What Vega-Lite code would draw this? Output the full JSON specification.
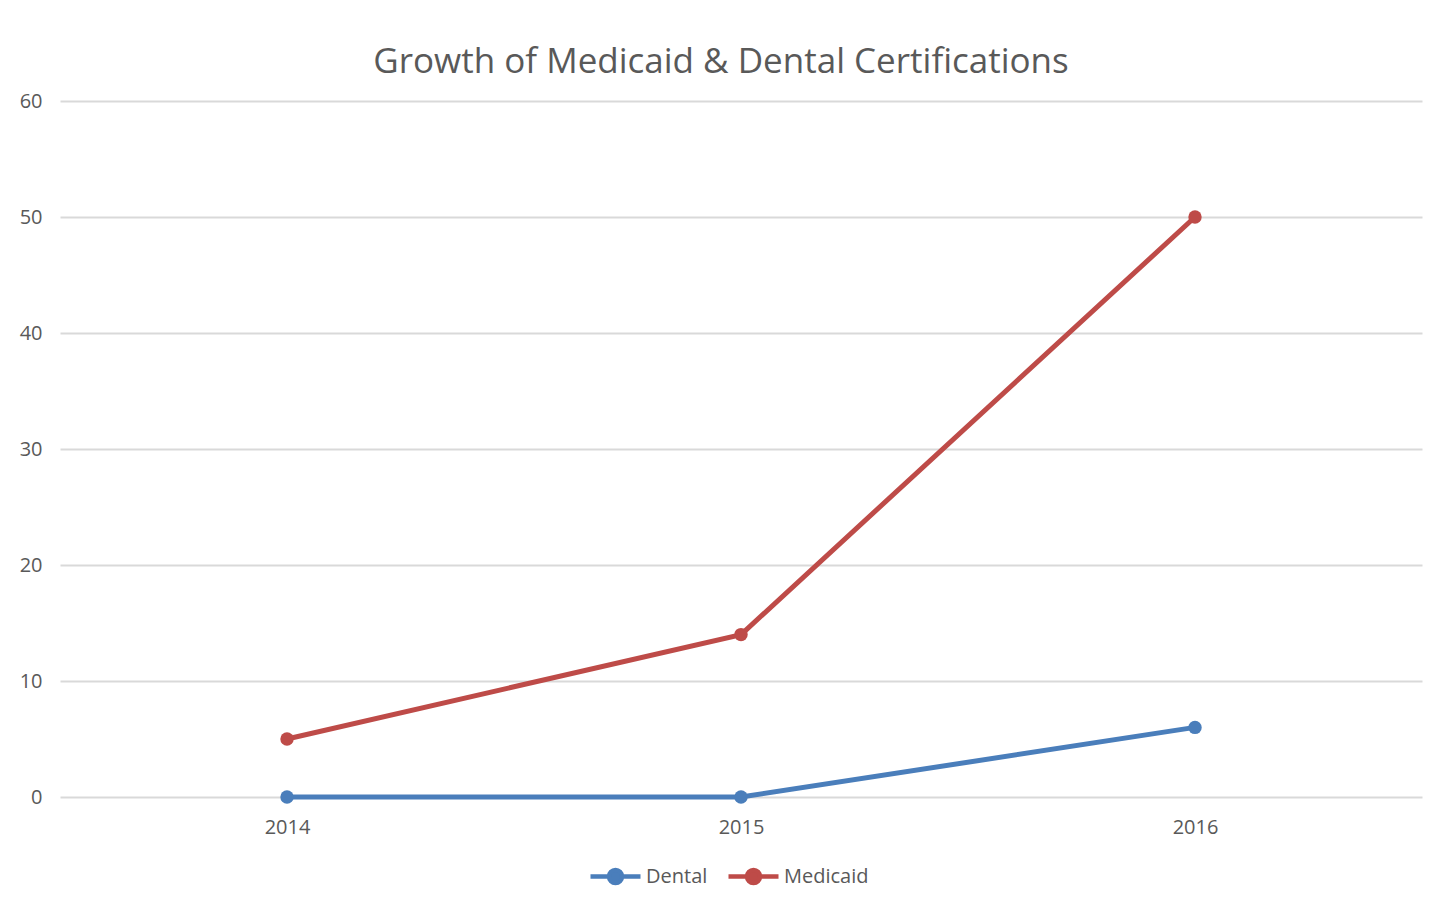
{
  "$schema": "https://vega.github.io/schema/vega-lite/v6.json",
  "autosize": {"type": "none"},
  "padding": {"left": 60, "top": 101, "right": 29, "bottom": 119},
  "width": 1362,
  "height": 696,
  "background": "white",
  "title": {
    "text": "Growth of Medicaid & Dental Certifications",
    "font": "Open Sans",
    "fontSize": 35,
    "fontWeight": "normal",
    "color": "#595959",
    "anchor": "middle",
    "baseline": "alphabetic",
    "dx": -20,
    "dy": 45,
    "offset": 28
  },
  "data": {
    "values": [
      {"year": "2014", "series": "Dental", "value": 0},
      {"year": "2015", "series": "Dental", "value": 0},
      {"year": "2016", "series": "Dental", "value": 6},
      {"year": "2014", "series": "Medicaid", "value": 5},
      {"year": "2015", "series": "Medicaid", "value": 14},
      {"year": "2016", "series": "Medicaid", "value": 50}
    ]
  },
  "mark": {"type": "line", "strokeWidth": 5, "point": {"filled": true, "size": 180, "opacity": 1}},
  "encoding": {
    "x": {
      "field": "year",
      "type": "ordinal",
      "scale": {"type": "point", "padding": 0.5},
      "axis": {
        "title": null,
        "labelAngle": 0,
        "ticks": false,
        "domain": false,
        "grid": false,
        "labelFont": "Open Sans",
        "labelFontSize": 20,
        "labelColor": "#595959",
        "labelPadding": 20
      }
    },
    "y": {
      "field": "value",
      "type": "quantitative",
      "scale": {"domain": [0, 60]},
      "axis": {
        "title": null,
        "values": [0, 10, 20, 30, 40, 50, 60],
        "ticks": false,
        "domain": false,
        "gridColor": "#d9d9d9",
        "gridWidth": 2,
        "labelFont": "Open Sans",
        "labelFontSize": 20,
        "labelColor": "#595959",
        "labelPadding": 18
      }
    },
    "color": {
      "field": "series",
      "type": "nominal",
      "scale": {"domain": ["Dental", "Medicaid"], "range": ["#4a7ebb", "#be4b48"]},
      "legend": {
        "title": null,
        "orient": "none",
        "legendX": 528,
        "legendY": 748,
        "direction": "horizontal",
        "symbolType": "M-1,0 L-0.26,0 A0.26,0.26 0 1,1 0.26,0 A0.26,0.26 0 1,1 -0.26,0 M0.26,0 L1,0",
        "symbolSize": 2500,
        "symbolStrokeWidth": 4.5,
        "labelFont": "Open Sans",
        "labelFontSize": 20,
        "labelColor": "#595959",
        "labelOffset": 3,
        "columnPadding": 11,
        "encode": {
          "symbols": {"update": {"fill": {"scale": "color", "field": "value"}, "fillOpacity": {"value": 1}}}
        }
      }
    }
  },
  "config": {"view": {"stroke": null}}
}
